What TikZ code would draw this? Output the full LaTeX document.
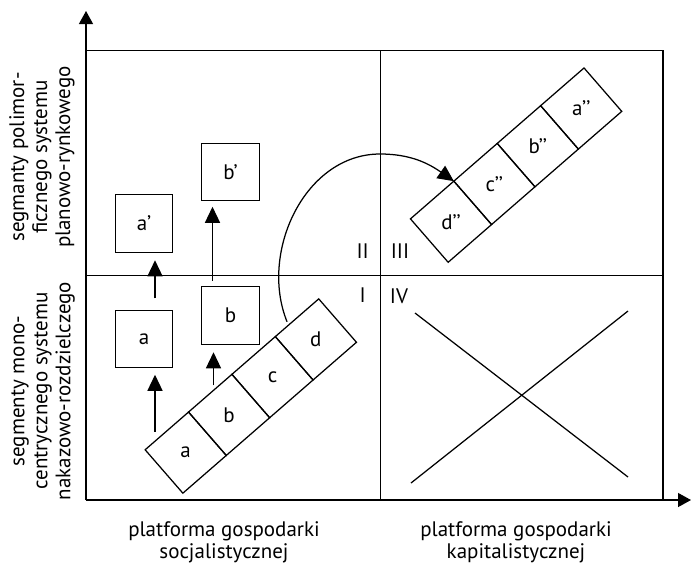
\documentclass[tikz,border=0pt]{standalone}
\usepackage{fontspec}
\setmainfont{PT Sans}
\usetikzlibrary{arrows.meta,positioning}

\begin{document}
\begin{tikzpicture}[x=1pt, y=-1pt, line width=1.25pt, font=\fontsize{21}{23}\selectfont,
  box/.style = {draw, minimum size=57.5pt, inner sep=0pt, outer sep=0pt},
  tilt/.style = {box, rotate=41},
  up/.style = {-{Triangle[length=16pt,width=15pt]}},
  axis/.style = {-{Triangle[length=13pt,width=14pt]}}]
\useasboundingbox (0,0) rectangle (692,566);
% axes and quadrants
\coordinate (o) at (86,500);
\draw[axis] (o) -- (86,11);
\draw[axis] (o) -- (691,500);
\draw (86,50.7) -- (663,50.7) -- (663,500);
\draw (380.7,50.7) -- (380.7,500);
\draw (86,275.7) -- (663,275.7);
\node (q1) at (362.7,295) {I};
\node (q2) at (362.7,250.7) {II};
\node (q3) at (400,250.7) {III};
\node (q4) at (399,296) {IV};
% lower strip
\node[tilt] (sa) at (185.7,452.6) {\rotatebox{-41}{a}};
\node[tilt, right=0pt of sa] (sb) {\rotatebox{-41}{b}};
\node[tilt, right=0pt of sb] (sc) {\rotatebox{-41}{c}};
\node[tilt, right=0pt of sc] (sd) {\rotatebox{-41}{d}};
% upper strip
\node[tilt] (kd) at (451,221.7) {\rotatebox{-41}{d’’}};
\node[tilt, right=0pt of kd] (kc) {\rotatebox{-41}{c’’}};
\node[tilt, right=0pt of kc] (kb) {\rotatebox{-41}{b’’}};
\node[tilt, right=0pt of kb] (ka) {\rotatebox{-41}{a’’}};
% single boxes
\node[box] (a) at (144,339) {a};
\node[box] (b) at (230.5,315.5) {b};
\node[box, above=58pt of a] (ap) {a’};
\node[box, above=86pt of b] (bp) {b’};
\draw[up] ([xshift=11pt,yshift=-64pt]a.south) -- ([xshift=11pt,yshift=-7pt]a.south);
\draw[up] ([xshift=11pt,yshift=12pt]a.north) -- ([xshift=11pt,yshift=-8pt]ap.south);
\draw[up] ([xshift=-17pt,yshift=-41pt]b.south) -- ([xshift=-17pt,yshift=-8pt]b.south);
\draw[up] ([xshift=-18pt,yshift=6pt]b.north) -- ([xshift=-18pt,yshift=-6pt]bp.south);
% curved move
\coordinate (arctop) at (380,154);
\draw[up] ([xshift=-10pt,yshift=-4pt]sd.north) to[out=112,in=180] (arctop) to[out=0,in=145] (kd.north east);
% cross
\draw (415,313) -- (628,477);
\draw (411,483) -- (628,311);
% labels
\node[align=center, font=\fontsize{21}{22}\selectfont] (xs) at (224,542) {platforma gospodarki\\socjalistycznej};
\node[align=center, font=\fontsize{21}{22}\selectfont] (xk) at (516,542) {platforma gospodarki\\kapitalistycznej};
\node[rotate=90, align=center] (yp) at (42,157) {segmanty polimor-\\ficznego systemu\\planowo-rynkowego};
\node[rotate=90, align=center] (ys) at (43,391) {segmenty mono-\\centrycznego systemu\\nakazowo-rozdzielczego};
\end{tikzpicture}
\end{document}
